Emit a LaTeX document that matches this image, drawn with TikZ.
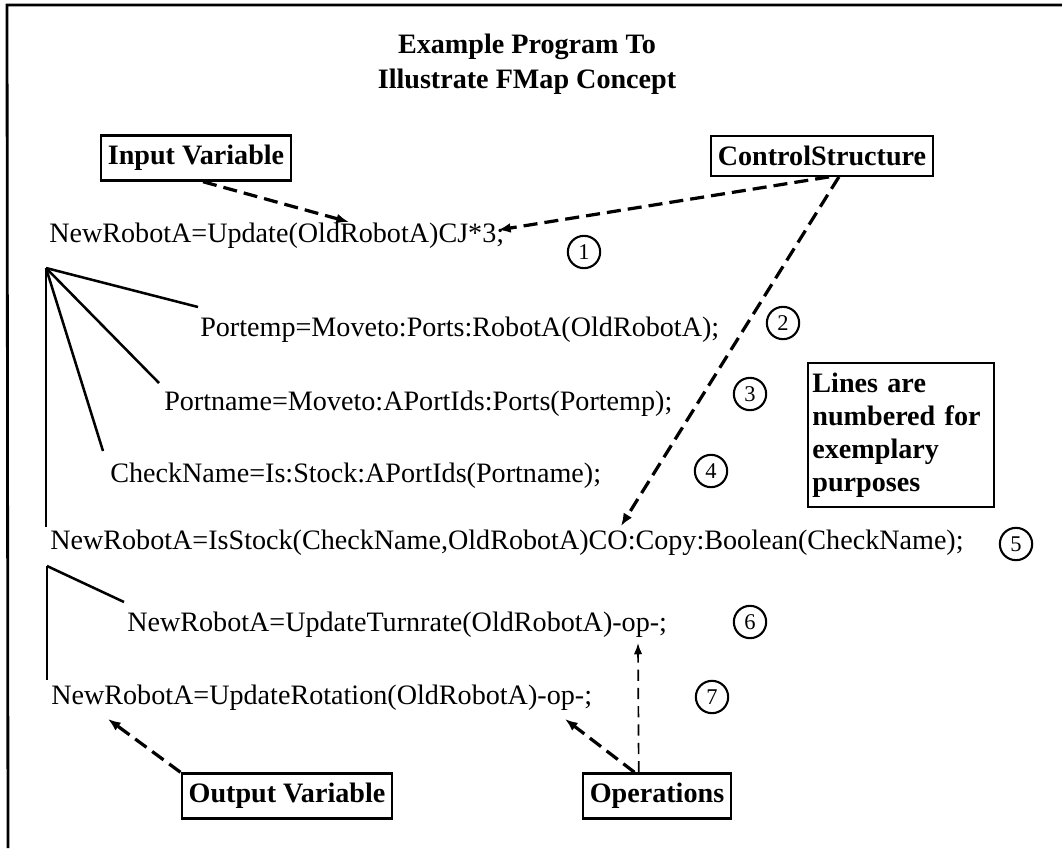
\documentclass[tikz,border=0pt]{standalone}
\usepackage{fontspec}
\setmainfont{Liberation Serif}
\usetikzlibrary{arrows.meta, positioning}

\begin{document}
\begin{tikzpicture}[x=0.025cm, y=-0.025cm,
  code/.style={anchor=base west, inner sep=0pt, font=\fontsize{20}{24}\selectfont},
  tbox/.style={draw, line width=1.6pt, inner xsep=5pt, inner ysep=7pt,
               font=\fontsize{20}{24}\selectfont\bfseries},
  num/.style={draw, circle, line width=1.5pt, minimum size=23pt, inner sep=0pt,
              font=\fontsize{16}{16}\selectfont},
  tree/.style={line width=1.8pt},
  darr/.style={draw, line width=2.3pt, dash pattern=on 10pt off 5pt,
               -{Latex[length=9pt, width=7pt]}},
  farr/.style={draw, line width=1.2pt, dash pattern=on 8pt off 5pt,
               -{Latex[length=8pt, width=6pt]}}
]
\useasboundingbox (0,0) rectangle (1062,848);

%% frame (left and top only)
\draw[line width=2pt] (8,848) -- (7,5) -- (1062,5);

%% title
\node[font=\fontsize{20}{25}\selectfont\bfseries, align=center] (title) at (527,64)
  {Example Program To\\Illustrate FMap Concept};

%% labelled boxes
\node[tbox] (invar)  at (196,158) {Input Variable};
\node[tbox] (ctrl)   at (822,156) {ControlStructure};
\node[tbox] (outvar) at (287,796) {Output Variable};
\node[tbox] (ops)    at (657,796) {Operations};
\node[draw, line width=1.6pt, text width=126pt, inner xsep=3pt, inner ysep=7pt, align=left,
      font=\fontsize{20}{23.5}\selectfont\bfseries] (note) at (901,435)
  {Lines are\\numbered for\\exemplary\\purposes};

%% program lines
\node[code] (l1) at (49,242)  {NewRobotA=Update(OldRobotA)CJ*3;};
\node[code] (l2) at (200,336) {Portemp=Moveto:Ports:RobotA(OldRobotA);};
\node[code] (l3) at (164,410) {Portname=Moveto:APortIds:Ports(Portemp);};
\node[code] (l4) at (110,482) {CheckName=Is:Stock:APortIds(Portname);};
\node[code] (l5) at (50,549)  {NewRobotA=IsStock(CheckName,OldRobotA)CO:Copy:Boolean(CheckName);};
\node[code] (l6) at (127,631) {NewRobotA=UpdateTurnrate(OldRobotA)-op-;};
\node[code] (l7) at (51,704)  {NewRobotA=UpdateRotation(OldRobotA)-op-;};

%% line numbers
\node[num] (n1) at (584,252)  {1};
\node[num] (n2) at (783,323)  {2};
\node[num] (n3) at (750,394)  {3};
\node[num] (n4) at (711,471)  {4};
\node[num] (n5) at (1016,544) {5};
\node[num] (n6) at (750,622)  {6};
\node[num] (n7) at (712,697)  {7};

%% tree under line 1
\coordinate (r1) at (46,268);
\coordinate (t2) at (198,307);
\coordinate (t3) at (159,383);
\coordinate (t4) at (103,451);
\coordinate (t5) at (46,527);
\draw[tree] (r1) -- (t2);
\draw[tree] (r1) -- (t3);
\draw[tree] (r1) -- (t4);
\draw[tree] (r1) -- (t5);

%% tree under line 5
\coordinate (r5) at (47,566);
\coordinate (t6) at (124,602);
\coordinate (t7) at (47,680);
\draw[tree] (r5) -- (t6);
\draw[tree] (r5) -- (t7);

%% arrow targets
\coordinate (inTip)  at (349,222);
\coordinate (ctlTip) at (498,230);
\coordinate (coTip)  at (621,526);
\coordinate (outTip) at (108,719);
\coordinate (opTip7) at (565,719);
\coordinate (opTip6) at (638,643);

\draw[darr] ([xshift=5pt]invar.south) -- (inTip);
\draw[darr] ([xshift=5pt]ctrl.south) -- (ctlTip);
\draw[darr] ([xshift=12pt]ctrl.south) -- (coTip);
\draw[darr] (outvar.north west) -- (outTip);
\draw[darr] ([xshift=-16pt]ops.north) -- (opTip7);
\draw[farr] ([xshift=-13pt]ops.north) -- (opTip6);

\end{tikzpicture}
\end{document}
